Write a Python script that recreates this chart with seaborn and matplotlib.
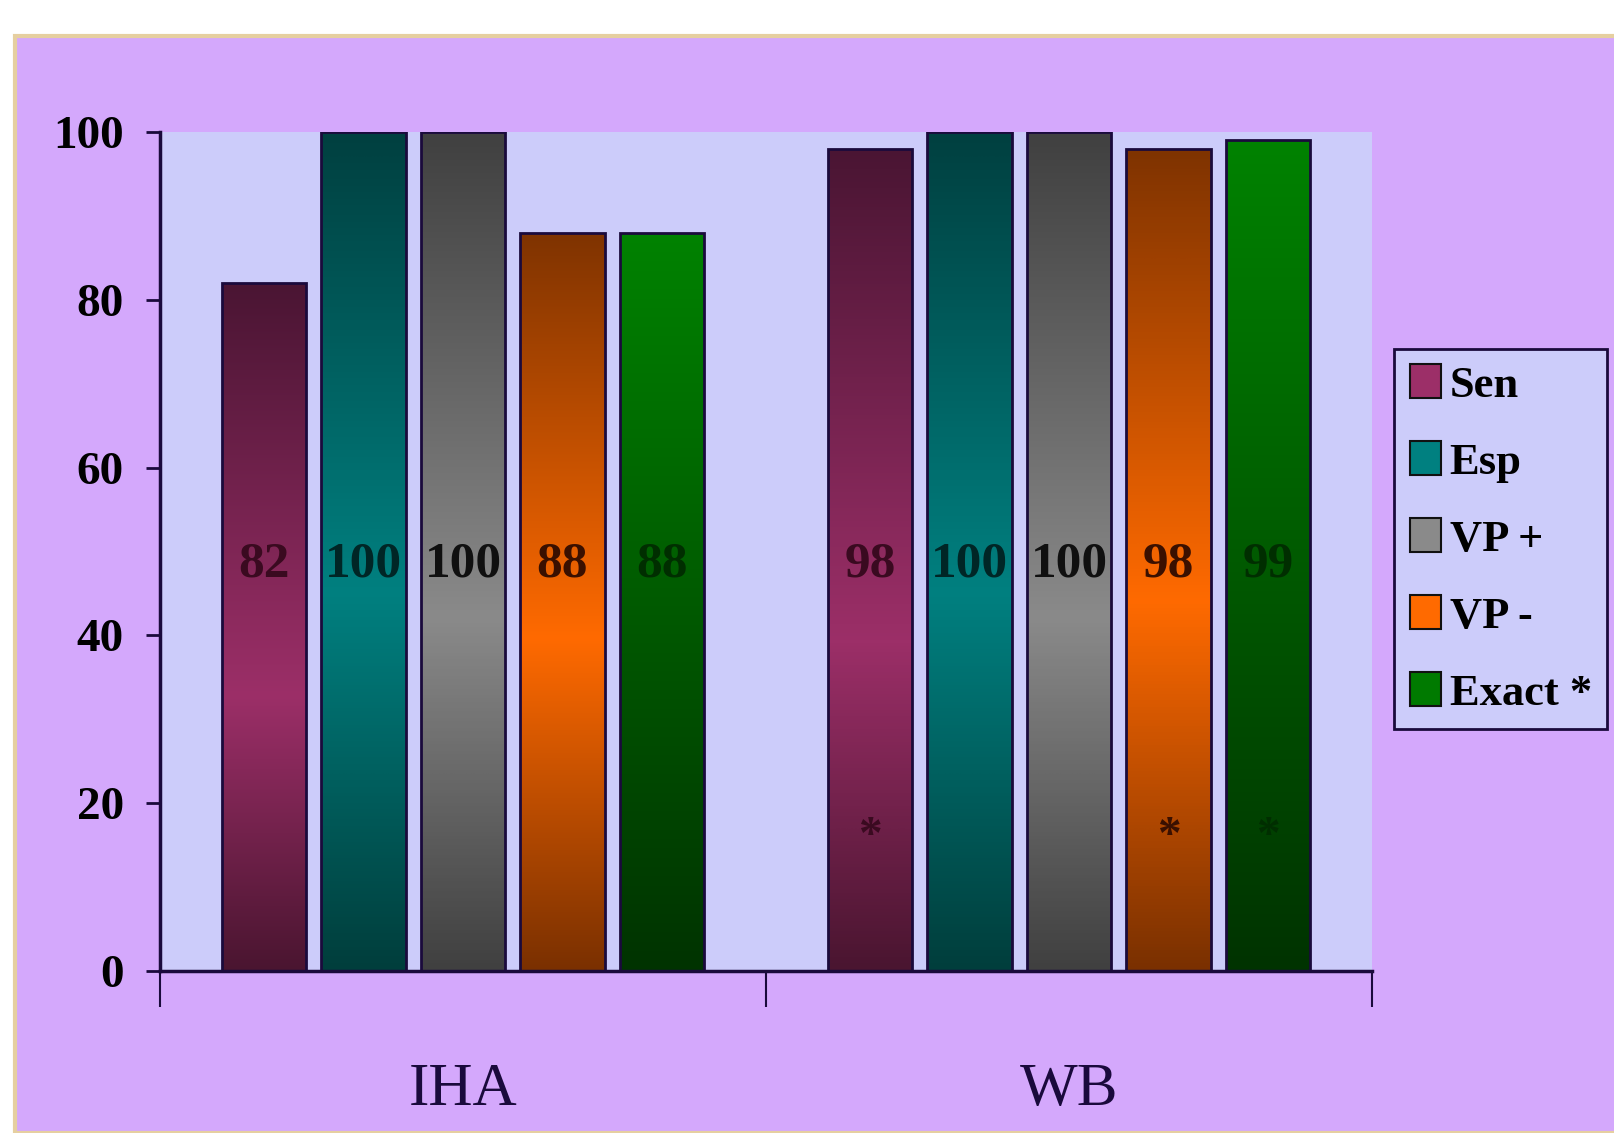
import numpy as np
import pandas as pd
import matplotlib
matplotlib.use("Agg")
import matplotlib.pyplot as plt
import seaborn as sns
from matplotlib.colors import LinearSegmentedColormap
from matplotlib.patches import Rectangle, Patch

groups = ["IHA", "WB"]
metrics = ["Sen", "Esp", "VP +", "VP -", "Exact *"]
iha_values = [82, 100, 100, 88, 88]
wb_values = [98, 100, 100, 98, 99]
wb_star = [True, False, False, True, True]

# dark / bright / dark stops for each metric's gradient (bottom -> top)
grad_colors = {
    "Sen": [(0.0, "#4a1530"), (0.40, "#9c2f68"), (1.0, "#4a1533")],
    "Esp": [(0.0, "#003e3c"), (0.45, "#008080"), (1.0, "#004040")],
    "VP +": [(0.0, "#404040"), (0.42, "#8a8a8a"), (1.0, "#404040")],
    "VP -": [(0.0, "#7a3000"), (0.45, "#ff6a00"), (1.0, "#7f3300")],
    "Exact *": [(0.0, "#003300"), (1.0, "#008200")],
}
mid_colors = ["#9c2f68", "#008080", "#8a8a8a", "#ff6a00", "#007a00"]
text_colors = ["#3a0a20", "#002626", "#101010", "#3a1000", "#002e00"]

df = pd.DataFrame({
    "group": np.repeat(groups, len(metrics)),
    "metric": metrics * len(groups),
    "value": iha_values + wb_values,
})

sns.set_style("white")
plt.rcParams["font.family"] = ["Liberation Serif", "DejaVu Serif"]
plt.rcParams["font.weight"] = "bold"
plt.rcParams["text.color"] = "black"

fig = plt.figure(figsize=(16.14, 11.33), dpi=100)
fig.patch.set_facecolor("white")
# lavender slide panel
fig.add_artist(Rectangle((15 / 1614, 0), 1, 1 - 36 / 1133, transform=fig.transFigure,
                         facecolor="#d4a8fc", edgecolor="#e6cfa0", linewidth=3, zorder=0))

ax = fig.add_axes([160 / 1614, 1 - 971 / 1133, (1372 - 160) / 1614, (971 - 132) / 1133])
ax.set_facecolor("#ccccfa")

navy = "#1a0a3c"
sns.barplot(data=df, x="group", y="value", hue="metric", order=groups, hue_order=metrics,
            palette=mid_colors, width=0.82, gap=0.15, edgecolor=navy, linewidth=2,
            legend=False, ax=ax)

for ci, cont in enumerate(ax.containers):
    cmap = LinearSegmentedColormap.from_list("g%d" % ci, grad_colors[metrics[ci]])
    grad = np.linspace(0, 1, 256).reshape(-1, 1)
    for bar in cont:
        x0, w, h = bar.get_x(), bar.get_width(), bar.get_height()
        im = ax.imshow(grad, cmap=cmap, origin="lower", aspect="auto",
                       extent=(x0, x0 + w, 0, h), zorder=2, interpolation="bicubic")
        im.set_clip_path(bar)
        bar.set_facecolor("none")
        bar.set_zorder(3)
        xc = x0 + w / 2
        ax.text(xc, 48.5, "%d" % h, ha="center", va="center", fontsize=37,
                fontweight="bold", color=text_colors[ci], zorder=4)

# significance asterisks on WB bars
for ci, cont in enumerate(ax.containers):
    if wb_star[ci]:
        bar = cont[1]
        ax.text(bar.get_x() + bar.get_width() / 2, 16, "*", ha="center", va="center",
                fontsize=34, fontweight="bold", color=text_colors[ci], zorder=4)

ax.set_xlim(-0.5, 1.5)
ax.set_ylim(0, 100)
ax.set_yticks([0, 20, 40, 60, 80, 100])
ax.set_xlabel("")
ax.set_ylabel("")

for s in ["top", "right"]:
    ax.spines[s].set_visible(False)
for s in ["left", "bottom"]:
    ax.spines[s].set_color(navy)
    ax.spines[s].set_linewidth(2.5)
    ax.spines[s].set_zorder(5)

ax.tick_params(axis="y", which="major", direction="out", length=10, width=2, left=True,
               color=navy, labelsize=34, labelcolor="black", pad=16)
ax.set_xticks([-0.5, 0.5, 1.5], minor=True)
ax.tick_params(axis="x", which="minor", direction="out", length=26, width=1.5,
               bottom=True, color=navy)
ax.tick_params(axis="x", which="major", length=0, pad=66)
for lab in ax.get_xticklabels():
    lab.set_fontsize(44)
    lab.set_fontweight("normal")
    lab.set_color("#1a0a3c")
for lab in ax.get_yticklabels():
    lab.set_fontweight("bold")

handles = [Patch(facecolor=c, edgecolor="#111111", linewidth=1.5) for c in mid_colors]
leg = fig.legend(handles, metrics, loc="center left", bbox_to_anchor=(1394 / 1614, 1 - 539 / 1133),
                 frameon=True, fancybox=False, framealpha=1, facecolor="#ccccfa",
                 edgecolor=navy, prop={"size": 32, "weight": "bold"}, labelcolor="black",
                 handlelength=0.7, handleheight=0.8, handletextpad=0.2,
                 labelspacing=0.8, borderpad=0.35, borderaxespad=0)
leg.get_frame().set_linewidth(2)

fig.savefig("out.png", dpi=100)
